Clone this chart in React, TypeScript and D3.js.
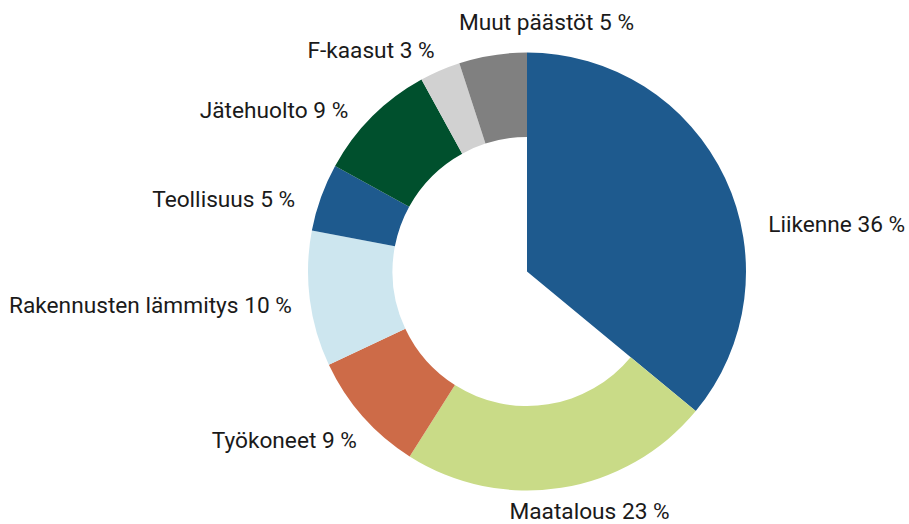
import React from "react";
import * as d3 from "d3";

const categories = [
  "Liikenne",
  "Maatalous",
  "Työkoneet",
  "Rakennusten lämmitys",
  "Teollisuus",
  "Jätehuolto",
  "F-kaasut",
  "Muut päästöt",
];
const values = [36, 23, 9, 10, 5, 9, 3, 5];
const colors = ["#1e5a8e", "#c9db87", "#cd6b48", "#cde6ef", "#1e5a8e", "#00502d", "#d1d1d1", "#808080"];

// label layout tweaks (layout only, not data)
const labelNudge: [number, number][] = [
  [24, 49],
  [25, -4],
  [10, 4],
  [3, -3],
  [-6, 3],
  [-9, 2],
  [3, -7],
  [57, -18],
];

const W = 909;
const H = 524;
const cx = 527;
const cy = 271.5;
const outerR = 219;
const innerR = 134.5;
const labelR = 240;

export default function App() {
  const data = categories.map((c, i) => ({ name: c, value: values[i], color: colors[i], i }));
  const pie = d3.pie<any>().value((d) => d.value).sort(null);
  const arcs = pie(data);
  const arcOuter = d3.arc<any>().outerRadius(outerR);

  return (
    <svg
      width={W}
      height={H}
      style={{ position: "absolute", left: 0, top: 0, background: "#fff" }}
      fontFamily="Roboto, sans-serif"
    >
      <g transform={`translate(${cx},${cy})`}>
        {arcs.map((a, i) => (
          <path
            key={i}
            d={arcOuter.innerRadius(i === 0 ? 0 : innerR)(a) as string}
            fill={a.data.color}
          />
        ))}
        {arcs.map((a, i) => {
          const mid = (a.startAngle + a.endAngle) / 2;
          const s = Math.sin(mid);
          const c = Math.cos(mid);
          const px = labelR * s;
          const py = -labelR * c;
          const anchor = Math.abs(s) < 0.2 ? "middle" : s > 0 ? "start" : "end";
          const [dx, dy] = labelNudge[i];
          return (
            <text
              key={"l" + i}
              x={px + dx}
              y={py + 14 + dy}
              textAnchor={anchor}
              fontSize={22.7}
              fill="#1a1a1a"
            >
              {`${a.data.name} ${a.data.value} %`}
            </text>
          );
        })}
      </g>
    </svg>
  );
}
